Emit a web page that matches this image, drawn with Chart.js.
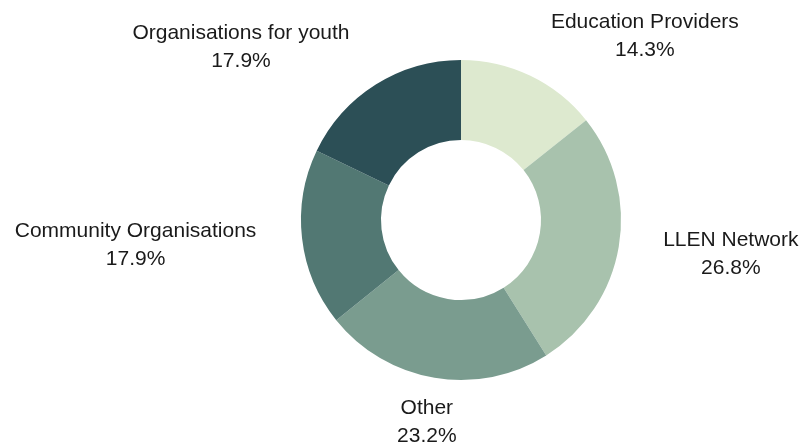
<!DOCTYPE html>
<html>
<head>
<meta charset="utf-8">
<script src="https://cdn.jsdelivr.net/npm/chart.js@4"></script>
<style>
  html, body { margin: 0; padding: 0; background: #fff; }
  #wrap { width: 805px; height: 445px; }
</style>
</head>
<body>
<div id="wrap"><canvas id="chart" width="805" height="445"></canvas></div>
<script>
// ---- data ----
const categories = ['Education Providers', 'LLEN Network', 'Other', 'Community Organisations', 'Organisations for youth'];
const shares = [14.3, 26.8, 23.2, 17.9, 17.9];
const sliceColors = ['#dde9cf', '#a8c2ad', '#7a9c8f', '#527873', '#2c4f56'];

// label placement: angle (deg clockwise from top) and distance in outer radii
const labelAngle = [45, 97.2, 189.6, 265.6, 308.2];
const labelDist = [1.625, 1.70, 1.28, 2.04, 1.75];

// draws "name / pct%" text blocks outside the ring
const outsideLabels = {
  id: 'outsideLabels',
  afterDatasetsDraw(chart) {
    const ctx = chart.ctx;
    const meta = chart.getDatasetMeta(0);
    ctx.save();
    ctx.font = '21px "Liberation Sans", Arial, sans-serif';
    ctx.fillStyle = '#1a1a1a';
    ctx.textAlign = 'center';
    ctx.textBaseline = 'middle';
    meta.data.forEach((arc, i) => {
      const a = labelAngle[i] * Math.PI / 180;
      const r = arc.outerRadius * labelDist[i];
      const x = arc.x + r * Math.sin(a);
      const y = arc.y - r * Math.cos(a);
      ctx.fillText(categories[i], x, y - 13.5);
      ctx.fillText(shares[i].toFixed(1) + '%', x, y + 14);
    });
    ctx.restore();
  }
};

new Chart(document.getElementById('chart'), {
  type: 'doughnut',
  data: {
    labels: categories,
    datasets: [{
      data: shares,
      backgroundColor: sliceColors,
      borderWidth: 0
    }]
  },
  options: {
    responsive: false,
    animation: false,
    cutout: '50%',
    layout: { padding: { left: 200, right: 83, top: 60, bottom: 65 } },
    plugins: {
      legend: { display: false },
      tooltip: { enabled: false }
    }
  },
  plugins: [outsideLabels]
});
</script>
</body>
</html>
